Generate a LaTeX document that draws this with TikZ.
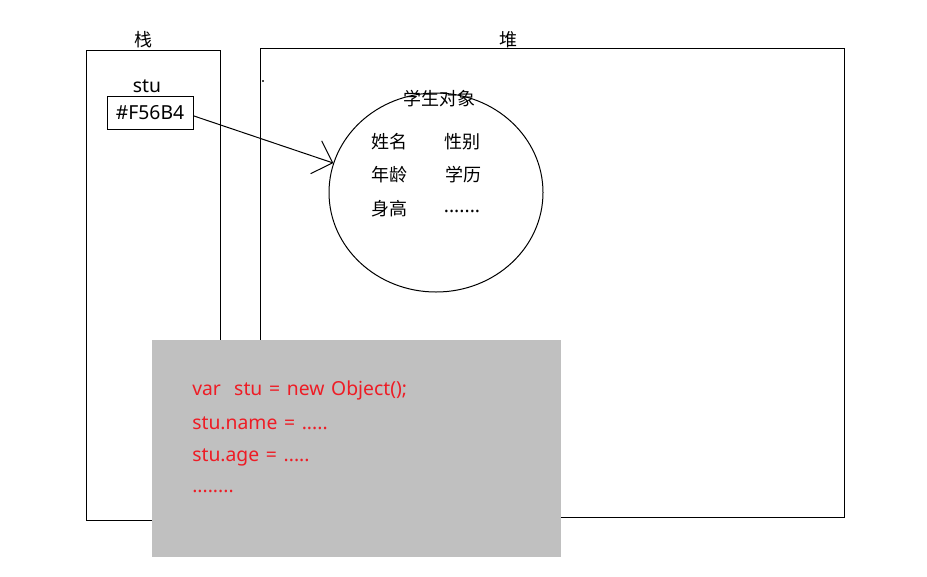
\documentclass[tikz,border=0pt]{standalone}
\usepackage{fontspec}
\setmainfont{Noto Sans CJK SC}
\newfontfamily\latinfont{Noto Sans}
\usetikzlibrary{shapes.geometric,arrows.meta}
\definecolor{codered}{HTML}{EE1C25}
\definecolor{panelgray}{HTML}{C0C0C0}
\newcommand\codefont{\latinfont\fontsize{14.5}{17}\selectfont\spaceskip=5pt plus 1pt minus 1pt\relax}
\tikzset{
  box/.style={draw=black, line width=0.75pt, inner sep=0pt},
  lbl/.style={inner sep=0pt, font=\fontsize{13.5}{16}\selectfont},
  latin/.style={inner sep=0pt, font=\latinfont\fontsize{14.5}{17}\selectfont},
  code/.style={inner sep=0pt, anchor=west, text=codered, font=\codefont},
}
\begin{document}
\begin{tikzpicture}[x=0.75pt,y=-0.75pt]
\useasboundingbox (0,0) rectangle (927,576);
% stack and heap
\node[box, minimum width=100.5pt, minimum height=352.5pt] (stack) at (153,285) {};
\node[lbl] (stacklbl) at (143,40) {栈};
\node[box, minimum width=438pt, minimum height=351.75pt] (heap) at (552,282.5) {};
\node[lbl] (heaplbl) at (508,40) {堆};
\fill[black!70] (262,80) rectangle (264,82);
% reference
\node[latin] (stulbl) at (147,86) {stu};
\node[box, latin, draw, line width=0.75pt, minimum width=64.5pt, minimum height=24.75pt] (ref) at (150,112.5) {\raisebox{-2pt}{\#F56B4}};
% object
\node[box, ellipse, minimum width=160.5pt, minimum height=149.25pt] (obj) at (436,192.5) {};
\node[lbl] (objlbl) at (439,99) {学生对象};
\node[lbl] (f1) at (389,142) {姓名};
\node[lbl] (f2) at (462,142) {性别};
\node[lbl] (f3) at (389,175) {年龄};
\node[lbl] (f4) at (463,175) {学历};
\node[lbl] (f5) at (389,209) {身高};
\node[latin] (f6) at (462,211) {.......};
\draw[line width=0.75pt, -{Straight Barb[length=13pt,width=26pt,line width=0.75pt]}] ([yshift=-2.5pt]ref.east) -- (obj.164);
% code panel
\node[fill=panelgray, inner sep=0pt, minimum width=306.75pt, minimum height=162.75pt] (panel) at (356.5,448.5) {};
\node[code] (c1) at (192,390) {var\hspace{5pt} stu = new Object();};
\node[code] (c2) at (192,423) {stu.name = .....};
\node[code] (c3) at (192,457) {stu.age = .....};
\node[code] (c4) at (192,491) {........};
\end{tikzpicture}
\end{document}
